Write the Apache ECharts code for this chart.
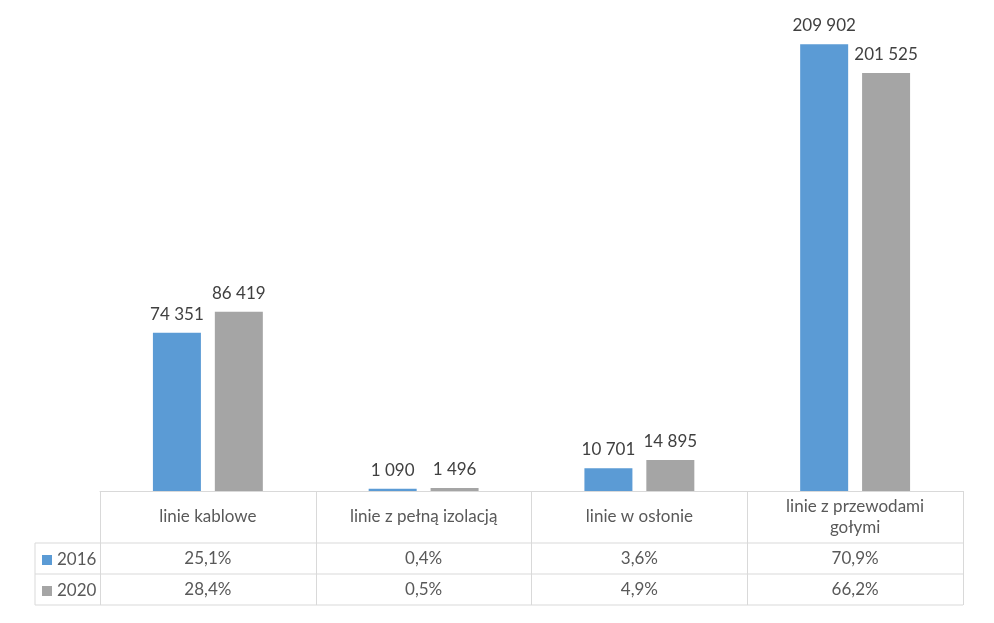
<!DOCTYPE html>
<html>
<head>
<meta charset="utf-8">
<script src="https://cdn.jsdelivr.net/npm/echarts@6/dist/echarts.min.js"></script>
<style>
  html, body { margin: 0; padding: 0; background: #fff; }
  #main { width: 994px; height: 623px; }
</style>
</head>
<body>
<div id="main"></div>
<script>
// dane
var categories = ['linie kablowe', 'linie z pełną izolacją', 'linie w osłonie', 'linie z przewodami\ngołymi'];
var years = ['2016', '2020'];
var values2016 = [74351, 1090, 10701, 209902];
var values2020 = [86419, 1496, 14895, 201525];
var pct2016 = ['25,1%', '0,4%', '3,6%', '70,9%'];
var pct2020 = ['28,4%', '0,5%', '4,9%', '66,2%'];

var colors = ['#5B9BD5', '#A5A5A5'];
var lineColor = '#D9D9D9';
var textColor = '#595959';
var font = 'Lato';
var fs = 17;

// geometria tabeli pod wykresem
var gLeft = 100, gRight = 963, gBottom = 491;
var tabLeft = 35;
var rowY = [543, 574, 605];

var myChart = echarts.init(document.getElementById('main'));

function fmt(v) {
    return String(v).replace(/\B(?=(\d{3})+(?!\d))/g, ' ');
}

function pctAxis(list, margin) {
    return {
        type: 'category',
        data: categories,
        position: 'bottom',
        axisLine: { show: false },
        axisTick: { show: false },
        axisLabel: {
            interval: 0,
            margin: margin,
            verticalAlign: 'middle',
            color: textColor,
            fontFamily: font,
            fontSize: fs,
            formatter: function (val, idx) { return list[idx]; }
        }
    };
}

var lines = [];
rowY.forEach(function (y) {
    lines.push({
        type: 'line',
        shape: { x1: tabLeft, y1: y, x2: gRight, y2: y },
        style: { stroke: lineColor, lineWidth: 1 }
    });
});
lines.push({
    type: 'line',
    shape: { x1: tabLeft, y1: rowY[0], x2: tabLeft, y2: rowY[2] },
    style: { stroke: lineColor, lineWidth: 1 }
});

var labelOpt = {
    show: true, position: 'top', distance: 10,
    color: '#404040', fontFamily: font, fontSize: fs,
    formatter: function (p) { return fmt(p.value); }
};

myChart.setOption({
    backgroundColor: '#fff',
    animation: false,
    color: colors,
    grid: {
        left: gLeft, right: 994 - gRight, top: 44, bottom: 623 - gBottom,
        outerBoundsMode: 'none'
    },
    legend: {
        data: years,
        orient: 'vertical',
        left: 37,
        top: 546,
        icon: 'rect',
        itemWidth: 10,
        itemHeight: 10,
        itemGap: 13,
        textStyle: { color: textColor, fontFamily: font, fontSize: fs, lineHeight: 18 }
    },
    xAxis: [{
        type: 'category',
        data: categories,
        axisLine: { show: true, lineStyle: { color: lineColor, width: 1 } },
        axisTick: { show: true, interval: 0, length: rowY[2] - gBottom, lineStyle: { color: lineColor } },
        axisLabel: {
            interval: 0,
            margin: 26,
            verticalAlign: 'middle',
            color: textColor,
            fontFamily: font,
            fontSize: fs,
            lineHeight: 21
        }
    },
    pctAxis(pct2016, (rowY[0] + rowY[1]) / 2 - gBottom),
    pctAxis(pct2020, (rowY[1] + rowY[2]) / 2 - gBottom)
    ],
    // seria 2020 na osi pomocniczej (jak w oryginale)
    yAxis: [
        { type: 'value', min: 0, max: 210000, show: false },
        { type: 'value', min: 0, max: 215500, show: false }
    ],
    series: [{
        name: years[0],
        type: 'bar',
        data: values2016,
        barWidth: 48,
        barGap: '29%',
        label: labelOpt
    }, {
        name: years[1],
        type: 'bar',
        yAxisIndex: 1,
        data: values2020,
        barWidth: 48,
        barGap: '29%',
        label: labelOpt
    }],
    graphic: lines
});
</script>
</body>
</html>
